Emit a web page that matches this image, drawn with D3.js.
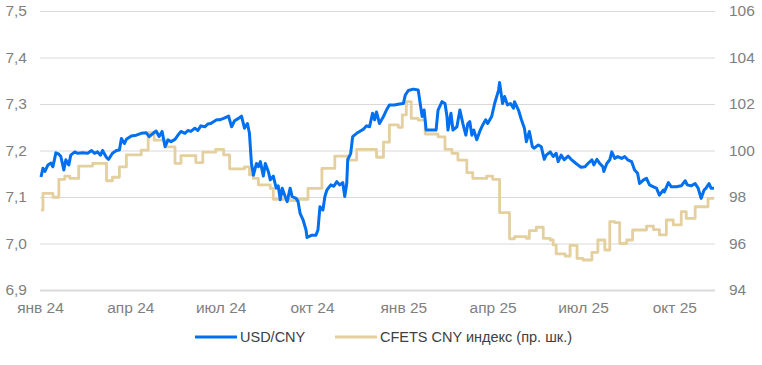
<!DOCTYPE html>
<html>
<head>
<meta charset="utf-8">
<script src="https://cdn.jsdelivr.net/npm/d3@7"></script>
<style>
  body { margin: 0; background: #fff; }
  text { font-family: "Liberation Sans", Arial, sans-serif; }
</style>
</head>
<body>
<div class="chart_cny"></div>
<script>
// USD/CNY (left axis)
var usdDates = [
  "2024-01-02","2024-01-04","2024-01-06","2024-01-09","2024-01-12","2024-01-14","2024-01-17","2024-01-20",
  "2024-01-22","2024-01-25","2024-01-27","2024-01-30","2024-02-01","2024-02-05","2024-02-08","2024-02-13",
  "2024-02-18","2024-02-22","2024-02-25","2024-02-28","2024-03-02","2024-03-04","2024-03-08","2024-03-10",
  "2024-03-14","2024-03-18","2024-03-21","2024-03-23","2024-03-26","2024-03-28","2024-04-02","2024-04-07",
  "2024-04-12","2024-04-17","2024-04-20","2024-04-24","2024-04-27","2024-04-30","2024-05-03","2024-05-06",
  "2024-05-09","2024-05-12","2024-05-16","2024-05-19","2024-05-22","2024-05-26","2024-05-29","2024-06-01",
  "2024-06-05","2024-06-08","2024-06-11","2024-06-15","2024-06-18","2024-06-21","2024-06-27","2024-06-30",
  "2024-07-04","2024-07-09","2024-07-12","2024-07-15","2024-07-19","2024-07-22","2024-07-25","2024-07-28",
  "2024-07-30","2024-08-01","2024-08-03","2024-08-06","2024-08-08","2024-08-10","2024-08-13","2024-08-15",
  "2024-08-18","2024-08-20","2024-08-23","2024-08-26","2024-08-28","2024-08-30","2024-09-01","2024-09-04",
  "2024-09-06","2024-09-09","2024-09-11","2024-09-15","2024-09-17","2024-09-19","2024-09-22","2024-09-25",
  "2024-09-26","2024-10-01","2024-10-05","2024-10-07","2024-10-09","2024-10-12","2024-10-14","2024-10-16",
  "2024-10-20","2024-10-23","2024-10-26","2024-10-29","2024-11-01","2024-11-03","2024-11-05","2024-11-06",
  "2024-11-09","2024-11-11","2024-11-15","2024-11-18","2024-11-22","2024-11-25","2024-11-28","2024-12-01",
  "2024-12-03","2024-12-05","2024-12-08","2024-12-12","2024-12-15","2024-12-18","2024-12-23","2024-12-28",
  "2025-01-01","2025-01-03","2025-01-06","2025-01-11","2025-01-16","2025-01-18","2025-01-20","2025-01-22",
  "2025-01-24","2025-01-28","2025-02-03","2025-02-05","2025-02-09","2025-02-12","2025-02-14","2025-02-15",
  "2025-02-18","2025-02-20","2025-02-24","2025-02-27","2025-03-02","2025-03-05","2025-03-07","2025-03-09",
  "2025-03-11","2025-03-13","2025-03-16","2025-03-19","2025-03-22","2025-03-25","2025-03-27","2025-03-31",
  "2025-04-03","2025-04-07","2025-04-08","2025-04-11","2025-04-13","2025-04-16","2025-04-19","2025-04-22",
  "2025-04-23","2025-04-27","2025-04-30","2025-05-03","2025-05-05","2025-05-08","2025-05-11","2025-05-13",
  "2025-05-17","2025-05-20","2025-05-23","2025-05-25","2025-05-29","2025-06-01","2025-06-04","2025-06-06",
  "2025-06-09","2025-06-12","2025-06-16","2025-06-19","2025-06-24","2025-06-29","2025-07-03","2025-07-06",
  "2025-07-10","2025-07-12","2025-07-15","2025-07-18","2025-07-21","2025-07-22","2025-07-25","2025-07-28",
  "2025-07-30","2025-08-02","2025-08-05","2025-08-09","2025-08-12","2025-08-15","2025-08-19","2025-08-22",
  "2025-08-25","2025-08-27","2025-08-31","2025-09-03","2025-09-06","2025-09-10","2025-09-13","2025-09-16",
  "2025-09-20","2025-09-21","2025-09-25","2025-09-28","2025-10-03","2025-10-08","2025-10-12","2025-10-14",
  "2025-10-18","2025-10-22","2025-10-25","2025-10-28","2025-10-31","2025-11-02","2025-11-05","2025-11-07",
  "2025-11-10"
];
var usdValues = [
  7.143,7.162,7.155,7.169,7.173,7.165,7.195,7.192,
  7.187,7.158,7.180,7.169,7.190,7.197,7.194,7.195,
  7.194,7.200,7.194,7.197,7.190,7.200,7.185,7.181,
  7.194,7.200,7.201,7.226,7.215,7.224,7.231,7.233,
  7.237,7.238,7.230,7.237,7.242,7.230,7.241,7.208,
  7.223,7.219,7.224,7.233,7.241,7.237,7.243,7.241,
  7.248,7.243,7.253,7.251,7.257,7.258,7.266,7.266,
  7.269,7.274,7.251,7.264,7.269,7.274,7.248,7.258,
  7.237,7.172,7.147,7.172,7.165,7.176,7.145,7.172,
  7.155,7.137,7.145,7.119,7.124,7.094,7.119,7.101,
  7.090,7.119,7.101,7.097,7.090,7.065,7.051,7.029,
  7.013,7.018,7.018,7.029,7.079,7.072,7.101,7.115,
  7.126,7.123,7.133,7.126,7.131,7.101,7.129,7.180,
  7.194,7.230,7.237,7.241,7.246,7.253,7.251,7.280,
  7.266,7.283,7.258,7.273,7.287,7.298,7.298,7.300,
  7.301,7.319,7.329,7.332,7.330,7.301,7.273,7.287,
  7.244,7.244,7.244,7.287,7.305,7.301,7.273,7.244,
  7.280,7.244,7.251,7.287,7.258,7.233,7.258,7.262,
  7.233,7.244,7.223,7.241,7.255,7.266,7.258,7.273,
  7.301,7.330,7.346,7.301,7.316,7.298,7.301,7.291,
  7.305,7.287,7.266,7.248,7.219,7.241,7.208,7.205,
  7.212,7.208,7.181,7.190,7.197,7.187,7.194,7.176,
  7.190,7.180,7.188,7.181,7.172,7.164,7.165,7.172,
  7.180,7.169,7.181,7.172,7.165,7.155,7.172,7.180,
  7.197,7.183,7.187,7.183,7.187,7.180,7.176,7.158,
  7.151,7.129,7.137,7.140,7.126,7.122,7.119,7.104,
  7.115,7.111,7.131,7.122,7.122,7.124,7.135,7.126,
  7.124,7.129,7.119,7.097,7.115,7.119,7.129,7.119,
  7.119
];

// CFETS CNY index (right axis), weekly fixing
var cfetsDates = [
  "2024-01-02","2024-01-04","2024-01-14","2024-01-20","2024-01-26","2024-01-31","2024-02-09","2024-02-23",
  "2024-03-08","2024-03-14","2024-03-21","2024-03-28","2024-04-12","2024-04-19","2024-04-25","2024-05-07",
  "2024-05-16","2024-05-22","2024-06-06","2024-06-13","2024-06-26","2024-07-04","2024-07-10","2024-07-25",
  "2024-07-30","2024-08-03","2024-08-08","2024-08-20","2024-08-23","2024-09-09","2024-09-17","2024-09-27",
  "2024-10-11","2024-10-24","2024-11-06","2024-11-15","2024-12-05","2024-12-12","2024-12-18","2024-12-27",
  "2024-12-31","2025-01-04","2025-01-09","2025-01-16","2025-01-23","2025-02-05","2025-02-12","2025-02-19",
  "2025-02-25","2025-03-06","2025-03-12","2025-03-26","2025-04-01","2025-04-08","2025-04-18","2025-04-23",
  "2025-05-05","2025-05-08","2025-05-15","2025-05-22","2025-05-29","2025-06-01","2025-06-04","2025-06-13",
  "2025-06-18","2025-06-25","2025-07-01","2025-07-10","2025-07-16","2025-07-23","2025-07-28","2025-08-02",
  "2025-08-07","2025-08-14","2025-08-20","2025-09-03","2025-09-10","2025-09-16","2025-09-23","2025-09-30",
  "2025-10-08","2025-10-13","2025-10-22","2025-11-04","2025-11-10"
];
var cfetsValues = [
  97.44,98.16,97.99,98.76,98.90,98.80,99.33,99.45,
  98.70,98.85,99.30,99.81,100.02,100.77,100.45,100.16,
  99.45,99.78,99.48,99.93,100.05,99.81,99.21,99.30,
  98.95,98.80,98.52,98.37,97.90,97.84,97.90,98.37,
  99.23,99.76,99.59,100.05,99.71,100.36,101.10,101.00,
  101.53,102.10,101.38,101.31,100.71,100.59,100.05,99.88,
  99.59,99.05,98.80,98.90,98.76,97.33,96.20,96.30,
  96.22,96.55,96.70,96.22,96.15,95.94,95.55,95.46,
  95.92,95.36,95.29,95.62,96.15,95.72,96.94,96.90,
  96.00,96.15,96.58,96.75,96.60,96.37,97.01,96.80,
  97.37,97.08,97.58,97.94,97.94
];

var leftTicks = [6.9, 7.0, 7.1, 7.2, 7.3, 7.4, 7.5];
var rightTicks = [94, 96, 98, 100, 102, 104, 106];
var quarterMonths = ["янв", "апр", "июл", "окт"];
var seriesNames = ["USD/CNY", "CFETS CNY индекс (пр. шк.)"];

var margin = {top: 11, right: 47, bottom: 75, left: 40},
  width = 762 - margin.left - margin.right,
  height = 365 - margin.top - margin.bottom;

var svg = d3.select(".chart_cny")
.append("svg")
  .attr("width", 762)
  .attr("height", 365)
.append("g")
  .attr("transform", "translate(" + margin.left + "," + margin.top + ")");

var parse = d3.timeParse("%Y-%m-%d");

var usd = usdDates.map(function(d, i) { return {date: parse(d), value: usdValues[i]}; });
var cfets = cfetsDates.map(function(d, i) { return {date: parse(d), value: cfetsValues[i]}; });

var x = d3.scaleTime()
  .domain([parse("2024-01-01"), parse("2025-11-11")])
  .range([0, width]);

var yLeft = d3.scaleLinear().domain([6.9, 7.5]).range([height, 0]);
var yRight = d3.scaleLinear().domain([94, 106]).range([height, 0]);

var comma = function(d) { return d3.format(".1f")(d).replace(".", ","); };

// gridlines
svg.append("g")
  .attr("class", "grid")
  .call(d3.axisLeft(yLeft).tickValues(leftTicks).tickSize(-width).tickFormat(""))
  .call(function(g) { g.select(".domain").remove(); })
  .selectAll("line")
    .attr("stroke", "#d9d9d9")
    .attr("stroke-width", function(d) { return d === 6.9 ? 2 : 1; });

// left axis labels
svg.append("g")
  .call(d3.axisLeft(yLeft).tickValues(leftTicks).tickSize(0).tickPadding(13).tickFormat(comma))
  .call(function(g) { g.select(".domain").remove(); })
  .selectAll("text")
    .attr("fill", "#7f7f7f")
    .style("font-size", "15.5px");

// right axis labels
svg.append("g")
  .attr("transform", "translate(" + width + ",0)")
  .call(d3.axisRight(yRight).tickValues(rightTicks).tickSize(0).tickPadding(14))
  .call(function(g) { g.select(".domain").remove(); })
  .selectAll("text")
    .attr("fill", "#7f7f7f")
    .style("font-size", "15.5px");

// x axis
var quarterTicks = d3.timeMonth.every(3).range(parse("2024-01-01"), parse("2025-11-02"));
svg.append("g")
  .attr("transform", "translate(0," + height + ")")
  .call(d3.axisBottom(x).tickValues(quarterTicks).tickSize(0).tickPadding(12)
    .tickFormat(function(d) {
      return quarterMonths[Math.floor(d.getMonth() / 3)] + " " + String(d.getFullYear()).slice(2);
    }))
  .call(function(g) { g.select(".domain").remove(); })
  .selectAll("text")
    .attr("fill", "#7f7f7f")
    .style("font-size", "15.5px");

// lines
var cfetsLine = d3.line()
  .curve(d3.curveStepAfter)
  .x(function(d) { return x(d.date); })
  .y(function(d) { return yRight(d.value); });

var usdLine = d3.line()
  .x(function(d) { return x(d.date); })
  .y(function(d) { return yLeft(d.value); });

svg.append("path")
  .datum(cfets)
  .attr("fill", "none")
  .attr("stroke", "#e4cf9f")
  .attr("stroke-width", 2.8)
  .attr("stroke-linejoin", "round")
  .attr("d", cfetsLine);

svg.append("path")
  .datum(usd)
  .attr("fill", "none")
  .attr("stroke", "#0070f0")
  .attr("stroke-width", 3)
  .attr("stroke-linejoin", "round")
  .attr("d", usdLine);

// legend
var legendColors = ["#0070f0", "#e4cf9f"];
var legend = d3.select("svg").append("g")
  .attr("transform", "translate(195,337)");

var item = legend.selectAll("g")
  .data(seriesNames)
  .enter()
  .append("g")
    .attr("transform", function(d, i) { return "translate(" + (i * 140) + ",0)"; });

item.append("line")
  .attr("x1", 0).attr("x2", 42)
  .attr("stroke", function(d, i) { return legendColors[i]; })
  .attr("stroke-width", 3);

item.append("text")
  .attr("x", 45)
  .attr("dy", "0.35em")
  .attr("fill", "#404040")
  .style("font-size", "14.5px")
  .text(function(d) { return d; });
</script>
</body>
</html>
